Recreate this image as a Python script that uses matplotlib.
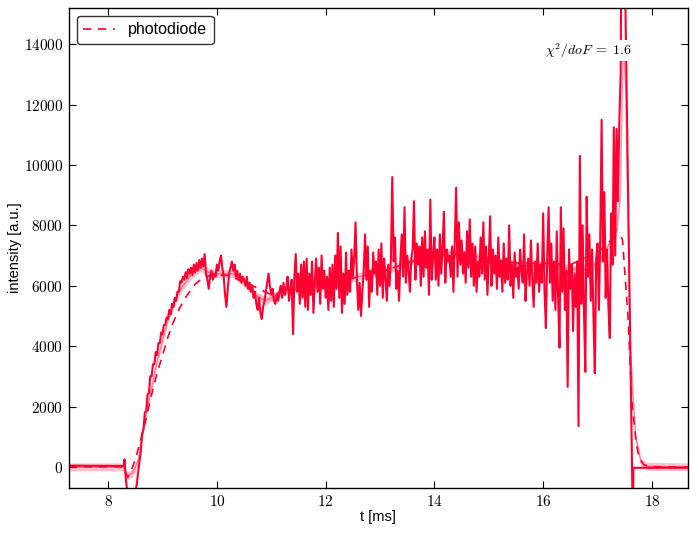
import numpy as np
import matplotlib
matplotlib.use("Agg")
import matplotlib.pyplot as plt
from matplotlib.ticker import FuncFormatter

plt.rcParams['mathtext.fontset'] = 'cm'

RED = '#ff0030'

# ---- noisy photodiode trace ----
head_t = [7.28, 8.29]
head_v = [40, 30]

main_t0 = 8.30
main_dt = 0.025
main_v = [
    250, -400, -800, -1000, -800, -1100, -900, -1000, -800, -600, -200, 150,
    500, 1100, 1250, 1800, 1850, 2400, 2450, 3000, 3000, 3400, 3400, 3800,
    3700, 4100, 4100, 4450, 4400, 4700, 4700, 4950, 4900, 5200, 5050, 5400,
    5300, 5600, 5500, 5800, 5800, 6150, 6100, 6300, 6200, 6450, 6250, 6550,
    6400, 6600, 6350, 6700, 6450, 6750, 6500, 6850, 6600, 6900, 6650, 7050,
    6400, 6200, 5900, 6300, 6500, 6200, 6400, 6300,
    # 10.0
    6700, 6500, 6800, 7000, 6600, 6300, 5700, 5300, 5900, 6400, 6600, 6800,
    6500, 6700, 6300, 6500, 6200, 6400, 6100, 6300, 6200, 6000, 6300, 5900,
    6100, 5800, 6000, 5600, 5800, 5400, 5200, 5600, 5100, 4900, 5300, 5500,
    5800, 6100, 6400, 6000,
    # 11.0
    5700, 5900, 5500, 5400, 5700, 5500, 5800, 6000, 5600, 6100, 5700, 5900,
    6300, 5500, 5900, 6200, 4400, 6300, 7050, 5800, 6400, 5400, 6700, 5600,
    6800, 5300, 6900, 5200, 6400, 5700, 6800, 5100, 6100, 6900, 5800, 6600,
    5400, 7000, 5900, 6500,
    # 12.0
    5600, 6300, 5200, 6600, 5500, 6700, 5300, 7000, 5900, 7750, 5600, 7300,
    5100, 6400, 5400, 7100, 5700, 6500, 5800, 7200, 6300, 6900, 8100, 6200,
    5200, 6100, 5000, 5800, 6500, 7700, 6200, 7300, 5300, 6500, 5800, 7100,
    6400, 6800, 5700, 7200,
    # 13.0
    6000, 7400, 5600, 6900, 6300, 5500, 6700, 6000, 6900, 9600, 6800, 7600,
    5900, 6500, 5500, 6900, 7700, 6300, 8600, 6100, 7000, 6500, 5800, 6900,
    7200, 8800, 6200, 7400, 6700, 7300, 6000, 7600, 6300, 7800, 6600, 7200,
    5700, 8850, 6200, 7000,
    # 14.0
    7600, 6200, 7200, 6000, 7700, 6400, 7300, 8450, 6100, 7200, 6800, 7000,
    6300, 7300, 5800, 7500, 9250, 6300, 8100, 6700, 7500, 6400, 7100, 6100,
    7800, 6600, 8200, 6300, 7400, 6000, 7300, 5800, 6800, 6300, 7600, 6400,
    8100, 6200, 7300, 5700,
    # 15.0
    6900, 8300, 6000, 7200, 6400, 7000, 5900, 7600, 6300, 6800, 5800, 7400,
    6100, 6900, 6200, 8000, 6000, 6700, 5600, 7100, 6300, 6600, 5900, 7200,
    6500, 6100, 7700, 5500, 6400, 6900, 6000, 7500, 6200, 5300, 6800, 6100,
    7400, 5800, 6700, 6100,
    # 16.0
    8400, 5800, 4600, 7000, 8600, 6100, 7400, 5500, 6800, 5200, 7800, 5600,
    3950, 8600, 5800, 7900, 5200, 6500, 2650, 7200, 5900, 6700, 4500, 6400,
    5300, 6800, 1350, 10300, 5400, 8000, 5200, 3150, 8950, 6300, 7700, 5500,
    7200, 5000, 3100, 6900,
    # 17.0
    7400, 5200, 7600, 11500, 6800, 9100, 5600, 7200, 5300, 4270, 8400, 6700,
    11250, 7000, 11200, 8800, 11400, 13000,
]

tail_t = [17.44, 17.495, 17.632, 17.650, 17.660, 18.66]
tail_v = [18000, 17500, 230, -2000, -30, -30]

# ---- smoothed signal (light band) ----
smooth_t = [7.28, 8.28, 8.35, 8.45, 8.55, 8.7, 8.9, 9.1, 9.3, 9.5, 9.7, 9.9,
            10.1, 10.3, 10.5, 10.7, 10.9, 11.1, 11.3, 11.6, 11.9, 12.2, 12.5,
            12.8, 13.1, 13.4, 13.7, 14.0, 14.3, 14.6, 14.9, 15.2, 15.5, 15.8,
            16.1, 16.4, 16.7, 16.9, 17.1, 17.25, 17.35, 17.42, 17.47, 17.52,
            17.6, 17.7, 17.8, 17.9, 18.66]
smooth_v = [0, 0, -300, -200, 200, 1800, 3500, 4900, 5800, 6300, 6600, 6400,
            6400, 6400, 6100, 5700, 5500, 5700, 5900, 6000, 6050, 6150, 6250,
            6400, 6500, 6700, 6900, 7050, 7100, 7050, 6900, 6800, 6700, 6650,
            6750, 6600, 6500, 6600, 7000, 7500, 7800, 9000, 14000, 12500,
            4000, 1000, 150, 20, 0]

# ---- model fit (dashed) ----
fit_t = [7.28, 8.28, 8.36, 8.42, 8.5, 8.6, 8.7, 8.8, 8.9, 9.0, 9.1, 9.2, 9.3,
         9.4, 9.5, 9.6, 9.7, 9.8, 9.9, 10.2, 10.6, 11.0, 11.5, 12.0, 12.5,
         13.0, 13.5, 14.0, 14.5, 15.0, 15.5, 16.0, 16.5, 17.0, 17.3, 17.43,
         17.46, 17.56, 17.63, 17.71, 17.76, 17.85, 18.0, 18.66]
fit_v = [0, 0, -350, -150, 250, 900, 1600, 2400, 3100, 3700, 4300, 4800, 5200,
         5550, 5800, 6050, 6200, 6300, 6350, 6350, 6050, 5700, 5900, 6100, 6250,
         6450, 6750, 7000, 7050, 6900, 6750, 6750, 6700, 7100, 7600, 7650,
         7500, 4970, 2200, 800, 330, 70, 0, 0]

main_t = main_t0 + main_dt * np.arange(len(main_v))
trace_t = np.concatenate([head_t, main_t, tail_t])
trace_v = np.concatenate([head_v, main_v, tail_v])

fig = plt.figure(figsize=(6.99, 5.33), dpi=100)
ax = fig.add_axes([0.0987, 0.0844, 0.8853, 0.9006])

st = np.array(smooth_t)
sv = np.array(smooth_v)
ax.fill_between(st, sv - 130, sv + 130, color=RED, alpha=0.25, lw=0)
ax.plot(st, sv, color=RED, alpha=0.4, lw=1.0)
ax.plot(trace_t, trace_v, color=RED, lw=1.5)
ax.plot(fit_t, fit_v, color=RED, lw=1.2, ls=(0, (5, 4)), label='photodiode')

ax.set_xlim(7.28, 18.66)
ax.set_ylim(-700, 15200)
ax.set_xticks([8, 10, 12, 14, 16, 18])
ax.set_yticks(np.arange(0, 14001, 2000))
fmt = FuncFormatter(lambda v, p: r'$%d$' % int(round(v)))
ax.xaxis.set_major_formatter(fmt)
ax.yaxis.set_major_formatter(fmt)
ax.tick_params(direction='in', top=True, right=True, length=5, width=0.8,
               labelsize=11)
ax.tick_params(axis='y', pad=4)
ax.tick_params(axis='x', pad=4)
for s in ax.spines.values():
    s.set_linewidth(1.0)

ax.set_xlabel('t [ms]', family='Liberation Sans', fontsize=10.5, labelpad=1)
ax.set_ylabel('intensity [a.u.]', family='Liberation Sans', fontsize=10.5,
              labelpad=1)

ax.text(0.769, 0.912, r'$\chi^2/doF\;=\;1.6$', transform=ax.transAxes,
        ha='left', va='center', fontsize=10, zorder=5,
        bbox=dict(facecolor='white', edgecolor='none', pad=1.0))

leg = ax.legend(loc='upper left', prop={'family': 'Liberation Sans', 'size': 11.5},
                fancybox=True, framealpha=1, edgecolor='#333333',
                handlelength=2.0, borderpad=0.4)
leg.get_frame().set_linewidth(1.0)

fig.savefig('out.png', dpi=100)
